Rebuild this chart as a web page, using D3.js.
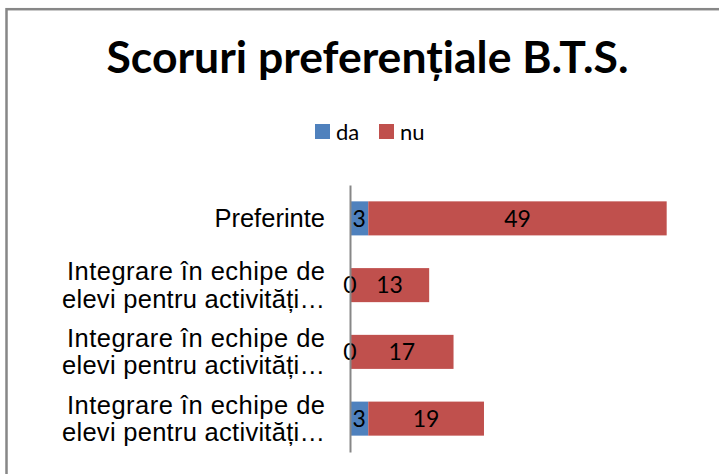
<!DOCTYPE html>
<html>
<head>
    <meta charset="utf-8">
    <style>
        body { margin: 0; background: #fff; }
        svg { display: block; }
    </style>
    <script src="https://d3js.org/d3.v7.min.js"></script>
</head>
<body>

<svg width="719" height="474"></svg>

<script>

    // data, top row first
    var categories = [
        ["Preferinte"],
        ["Integrare în echipe de", "elevi pentru activități…"],
        ["Integrare în echipe de", "elevi pentru activități…"],
        ["Integrare în echipe de", "elevi pentru activități…"]
    ];
    var seriesNames = ["da", "nu"];
    var daValues = [3, 0, 0, 3];
    var nuValues = [49, 13, 17, 19];
    var seriesColors = ["#4f81bd", "#c0504d"];
    var titleText = "Scoruri preferențiale B.T.S.";

    var svg = d3.select("svg");

    // outer chart frame (runs off the right and bottom edge)
    svg.append("rect")
        .attr("x", 6.5)
        .attr("y", 9.2)
        .attr("width", 800)
        .attr("height", 600)
        .attr("fill", "#fff")
        .attr("stroke", "#878787")
        .attr("stroke-width", 2.5);

    // title, sized to fit the width it has in the original
    var title = svg.append("text")
        .attr("x", 367.5)
        .attr("y", 73)
        .attr("text-anchor", "middle")
        .attr("font-family", "Lato, 'Open Sans', sans-serif")
        .attr("font-weight", "bold")
        .attr("font-size", 36)
        .attr("fill", "#000")
        .text(titleText);
    var tw = title.node().getComputedTextLength();
    title.attr("font-size", 36 * 522 / tw);

    // legend
    var legendX = [315, 379];
    var legend = svg.append("g");
    seriesNames.forEach(function(name, i) {
        legend.append("rect")
            .attr("x", legendX[i])
            .attr("y", 124)
            .attr("width", 15)
            .attr("height", 15)
            .attr("fill", seriesColors[i]);
        legend.append("text")
            .attr("x", legendX[i] + 21)
            .attr("y", 139.5)
            .attr("font-family", "Lato, sans-serif")
            .attr("font-size", 22)
            .attr("fill", "#000")
            .text(name);
    });

    // stacked rows
    var rows = categories.map(function(c, i) {
        return { idx: i, da: daValues[i], nu: nuValues[i] };
    });
    var stack = d3.stack().keys(seriesNames)(rows);

    var xScale = d3.scaleLinear()
        .domain([0, 60])
        .range([350, 715.4]);

    var yScale = d3.scaleBand()
        .domain(d3.range(categories.length))
        .range([185, 452])
        .paddingInner(0.49)
        .paddingOuter(0.245);

    var plot = svg.append("g");

    stack.forEach(function(layer, s) {
        var g = plot.append("g");
        g.selectAll("rect")
            .data(layer)
            .join("rect")
            .attr("x", function(d) { return xScale(d[0]); })
            .attr("y", function(d, i) { return yScale(i); })
            .attr("width", function(d) { return xScale(d[1]) - xScale(d[0]); })
            .attr("height", yScale.bandwidth())
            .attr("fill", seriesColors[s]);
    });

    // value labels
    stack.forEach(function(layer, s) {
        plot.append("g")
            .selectAll("text")
            .data(layer)
            .join("text")
            .attr("x", function(d) { return xScale((d[0] + d[1]) / 2); })
            .attr("y", function(d, i) { return yScale(i) + yScale.bandwidth() / 2 + 8.3; })
            .attr("text-anchor", "middle")
            .attr("font-family", "Lato, sans-serif")
            .attr("font-size", 23)
            .attr("fill", "#000")
            .text(function(d) { return d[1] - d[0]; });
    });

    // vertical axis line, no ticks
    var yAxis = d3.axisLeft(yScale).tickSize(0).tickFormat("");
    var axisG = svg.append("g")
        .attr("transform", "translate(" + xScale(0) + ",0)")
        .call(yAxis);
    axisG.select(".domain")
        .attr("stroke", "#878787")
        .attr("stroke-width", 2);

    // category labels (wrapped lines stretched to the widths of the original)
    var lineWidths = [258, 263];
    var catG = svg.append("g")
        .attr("font-family", "'Liberation Sans', Arial, sans-serif")
        .attr("font-size", 25.5)
        .attr("text-anchor", "end")
        .attr("fill", "#000");
    categories.forEach(function(lines, i) {
        var cy = yScale(i) + yScale.bandwidth() / 2;
        var t = catG.append("text").attr("x", 325);
        if (lines.length === 1) {
            t.attr("y", cy + 8.8).text(lines[0]);
        } else {
            lines.forEach(function(line, j) {
                t.append("tspan")
                    .attr("x", 325)
                    .attr("y", cy - 5 + j * 27.4)
                    .attr("textLength", lineWidths[j])
                    .attr("lengthAdjust", "spacing")
                    .text(line);
            });
        }
    });
</script>
</body>
</html>
